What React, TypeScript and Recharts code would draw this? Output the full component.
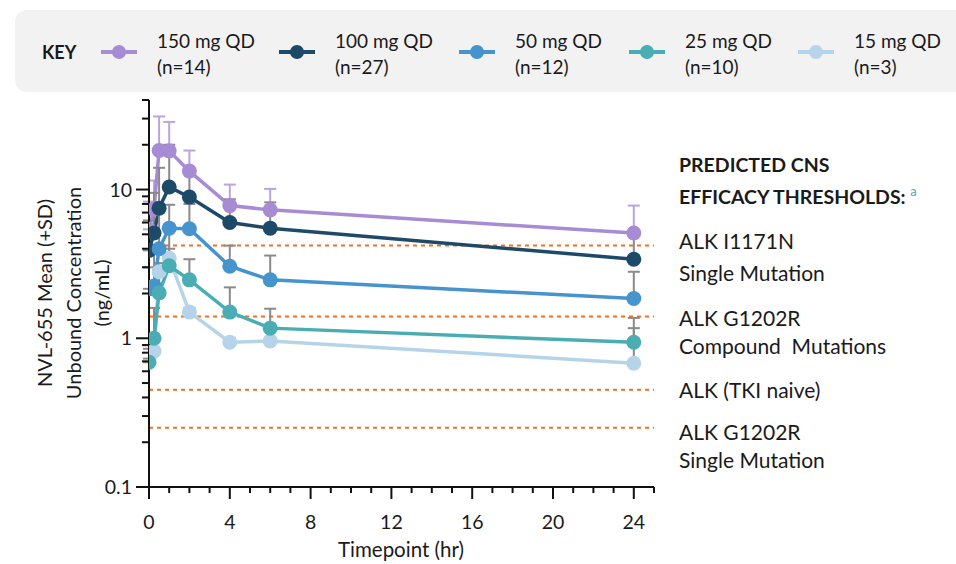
import React from "react";
import { LineChart, Line, XAxis, YAxis, ErrorBar, ReferenceLine } from "recharts";

// sampling times (hr)
const timepoints = [0, 0.25, 0.5, 1, 2, 4, 6, 24];

// mean unbound concentration (ng/mL) and mean + SD, per dose
const mean150 = [5.4, 7.4, 18.3, 18.2, 13.3, 7.8, 7.3, 5.1];
const upper150 = [8.3, 11.5, 31, 28.5, 18.3, 10.8, 10.1, 7.8];
const mean100 = [3.9, 5.1, 7.5, 10.4, 8.9, 6.0, 5.5, 3.4];
const upper100 = [6.2, 9.5, 14, 20, 13, 8.6, 8.2, 5.1];
const mean50 = [2.15, 2.25, 4.0, 5.5, 5.45, 3.05, 2.47, 1.85];
const upper50 = [3.0, 4.0, 7.0, 7.9, 8.0, 4.2, 3.6, 2.8];
const mean25 = [0.69, 1.0, 2.02, 3.07, 2.47, 1.5, 1.17, 0.94];
const upper25 = [0.9, 1.6, 3.0, 5.5, 3.4, 2.2, 1.58, 1.37];
const mean15 = [0.73, 0.82, 2.8, 3.45, 1.5, 0.94, 0.96, 0.68];
const upper15 = [0.85, 1.0, 3.2, 4.0, 1.6, 1.0, 1.0, 1.17];

const doseNames = ["150 mg QD", "100 mg QD", "50 mg QD", "25 mg QD", "15 mg QD"];
const doseN = ["(n=14)", "(n=27)", "(n=12)", "(n=10)", "(n=3)"];

// predicted CNS efficacy thresholds (ng/mL)
const thresholds = [4.2, 1.4, 0.45, 0.25];
const thresholdLabels = [
  ["ALK I1171N", "Single Mutation"],
  ["ALK G1202R", "Compound  Mutations"],
  ["ALK (TKI naive)"],
  ["ALK G1202R", "Single Mutation"],
];

const xTicks = [0, 1, 2, 3, 4, 5, 6, 7, 8, 9, 10, 11, 12, 13, 14, 15, 16, 17, 18, 19, 20, 21, 22, 23, 24, 25];
const xTickLabels = [0, 4, 8, 12, 16, 20, 24];
const yTicks = [0.1, 0.2, 0.3, 0.4, 0.5, 0.6, 0.7, 0.8, 0.9, 1, 2, 3, 4, 5, 6, 7, 8, 9, 10, 20, 30, 40];
const yTickLabels = [0.1, 1, 10];

const means = [mean150, mean100, mean50, mean25, mean15];
const uppers = [upper150, upper100, upper50, upper25, upper15];
const colors = ["#a78bd5", "#1e4a6a", "#4694cd", "#4aadb3", "#b6d4e9"];
const barColors = ["#b9a4e0", "#8a8a8a", "#8a8a8a", "#8a8a8a", "#8a8a8a"];
const keys = ["s150", "s100", "s50", "s25", "s15"];
const drawOrder = [0, 1, 4, 2, 3];

const data = timepoints.map((t, i) => {
  const row: Record<string, any> = { t };
  keys.forEach((k, s) => {
    row[k] = means[s][i];
    row[k + "e"] = [0, uppers[s][i] - means[s][i]];
  });
  return row;
});

const W = 956;
const H = 564;
const PLOT_LEFT = 149;
const PLOT_BOTTOM = 487;
const FONT = "Lato, 'Open Sans', sans-serif";
const ORANGE = "#f37021";

function XTick(props: any) {
  const { x, payload } = props;
  const v = payload.value;
  const major = xTickLabels.includes(v);
  return (
    <g>
      <line x1={x} x2={x} y1={PLOT_BOTTOM} y2={PLOT_BOTTOM + (major ? 12 : 6)} stroke="#111" strokeWidth={2} />
      {major && (
        <text x={x} y={PLOT_BOTTOM + 42} textAnchor="middle" fontSize={19.5} fill="#1a1a1a" fontFamily={FONT}>
          {v}
        </text>
      )}
    </g>
  );
}

function YTick(props: any) {
  const { y, payload } = props;
  const v = payload.value;
  const major = yTickLabels.includes(v);
  return (
    <g>
      <line x1={PLOT_LEFT - (major ? 13 : 7)} x2={PLOT_LEFT} y1={y} y2={y} stroke="#111" strokeWidth={2} />
      {major && (
        <text x={PLOT_LEFT - 17} y={y + 7} textAnchor="end" fontSize={19.5} fill="#1a1a1a" fontFamily={FONT}>
          {v}
        </text>
      )}
    </g>
  );
}

function LegendIcon({ color }: { color: string }) {
  return (
    <svg width={38} height={16} style={{ display: "block" }}>
      <line x1={1} x2={37} y1={8} y2={8} stroke={color} strokeWidth={4} />
      <circle cx={19} cy={8} r={7} fill={color} />
    </svg>
  );
}

const legendX = [100, 278, 458, 628, 797];
const labelTops = [225, 304, 376, 418];
const labelLineHeights = [32, 28, 28, 28];

export default function App() {
  return (
    <div style={{ position: "absolute", left: 0, top: 0, width: W, height: H, overflow: "hidden", background: "#fff", fontFamily: FONT, color: "#1a1a1a" }}>
      {/* key */}
      <div style={{ position: "absolute", left: 15, top: 10, width: 980, height: 82, background: "#f2f2f2", borderRadius: 12 }} />
      <div style={{ position: "absolute", left: 42, top: 41, fontSize: 18, fontWeight: 700 }}>KEY</div>
      {doseNames.map((name, i) => (
        <React.Fragment key={name}>
          <div style={{ position: "absolute", left: legendX[i], top: 44 }}>
            <LegendIcon color={colors[i]} />
          </div>
          <div style={{ position: "absolute", left: legendX[i] + 57, top: 28, fontSize: 19, lineHeight: "26px" }}>
            <div>{name}</div>
            <div>{doseN[i]}</div>
          </div>
        </React.Fragment>
      ))}

      <LineChart width={W} height={H} data={data} margin={{ top: 100, right: 302, bottom: 37, left: 89 }}>
        <XAxis
          dataKey="t"
          type="number"
          domain={[0, 25]}
          ticks={xTicks}
          interval={0}
          allowDataOverflow
          height={40}
          axisLine={{ stroke: "#111", strokeWidth: 2 }}
          tickLine={false}
          tick={<XTick />}
        />
        <YAxis
          type="number"
          scale="log"
          domain={[0.1, 40]}
          ticks={yTicks}
          interval={0}
          allowDataOverflow
          width={60}
          axisLine={{ stroke: "#111", strokeWidth: 2 }}
          tickLine={false}
          tick={<YTick />}
        />
        {thresholds.map((v) => (
          <ReferenceLine key={v} y={v} stroke={ORANGE} strokeWidth={2} strokeDasharray="4 4" />
        ))}
        {drawOrder.map((s) => (
          <Line
            key={keys[s]}
            dataKey={keys[s]}
            type="linear"
            stroke={colors[s]}
            strokeWidth={3.5}
            dot={{ r: 7.5, fill: colors[s], stroke: "none" }}
            activeDot={false}
            isAnimationActive={false}
          >
            <ErrorBar dataKey={keys[s] + "e"} direction="y" width={6} stroke={barColors[s]} strokeWidth={2} />
          </Line>
        ))}
      </LineChart>

      {/* axis titles */}
      <svg width={W} height={H} style={{ position: "absolute", left: 0, top: 0, pointerEvents: "none" }}>
        {["NVL-655 Mean (+SD)", "Unbound Concentration", "(ng/mL)"].map((line, i) => (
          <text
            key={line}
            x={44 + i * 28.5}
            y={293}
            transform={`rotate(-90, ${44 + i * 28.5}, 293)`}
            textAnchor="middle"
            dominantBaseline="central"
            fontSize={20}
            fill="#1a1a1a"
            fontFamily={FONT}
          >
            {line}
          </text>
        ))}
        <text x={401} y={557} textAnchor="middle" fontSize={20.5} fill="#1a1a1a" fontFamily={FONT}>
          Timepoint (hr)
        </text>
      </svg>

      {/* threshold legend */}
      <div style={{ position: "absolute", left: 679, top: 149, fontSize: 19.5, fontWeight: 700, lineHeight: "32px", whiteSpace: "nowrap" }}>
        <div>PREDICTED CNS</div>
        <div>
          EFFICACY THRESHOLDS:{" "}
          <span style={{ color: "#4aadb3", fontWeight: 400, fontSize: 13, position: "relative", top: -8 }}>a</span>
        </div>
      </div>
      {thresholdLabels.map((lines, i) => (
        <div key={i} style={{ position: "absolute", left: 679, top: labelTops[i], fontSize: 21, lineHeight: `${labelLineHeights[i]}px` }}>
          {lines.map((l) => (
            <div key={l} style={{ whiteSpace: "pre" }}>{l}</div>
          ))}
        </div>
      ))}
    </div>
  );
}
